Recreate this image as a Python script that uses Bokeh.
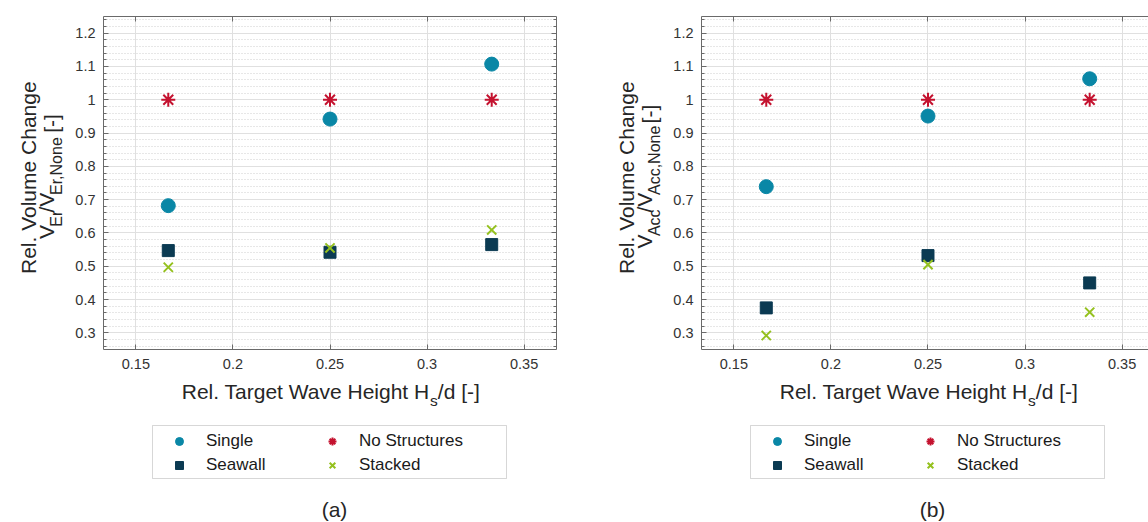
import math
import numpy as np
from bokeh.plotting import figure
from bokeh.models import (FixedTicker, LinearAxis, Range1d, Label, Legend, LegendItem,
                          BoxAnnotation, CustomJSTickFormatter)
from bokeh.layouts import row, column
from bokeh.embed import file_html
from bokeh.resources import INLINE

# ---------------- data ----------------
x_hs = [0.1667, 0.25, 0.3333]

single_er = [0.682, 0.942, 1.107]
seawall_er = [0.547, 0.542, 0.565]
nostruct_er = [1.0, 1.0, 1.0]
stacked_er = [0.497, 0.555, 0.609]

single_acc = [0.739, 0.951, 1.063]
seawall_acc = [0.375, 0.532, 0.450]
nostruct_acc = [1.0, 1.0, 1.0]
stacked_acc = [0.292, 0.505, 0.362]

series_names = ["Single", "Seawall", "No Structures", "Stacked"]

x_ticks = [0.15, 0.2, 0.25, 0.3, 0.35]
x_tick_labels = ["0.15", "0.2", "0.25", "0.3", "0.35"]
y_ticks = [0.3, 0.4, 0.5, 0.6, 0.7, 0.8, 0.9, 1.0, 1.1, 1.2]
y_tick_labels = ["0.3", "0.4", "0.5", "0.6", "0.7", "0.8", "0.9", "1", "1.1", "1.2"]

# ---------------- style / layout ----------------
FONT = "Liberation Sans"
C_SINGLE = "#0a87a6"
C_SEAWALL = "#0b3a52"
C_NOSTRUCT = "#c4122f"
C_STACKED = "#95c11f"
AXIS_C = "#6a6a6a"
TEXT_C = "#262626"

X_START, X_END = 0.13333, 0.36667
Y_START, Y_END = 0.25, 1.25
FRAME_W = 455          # full frame width (panel b is cut off at the right)
FRAME_H = 333
TOP = 16               # frame top inside the main figure
MAIN_BOTTOM = 28       # room for x tick labels
MAIN_H = TOP + FRAME_H + MAIN_BOTTOM
TOTAL_H = 522
BOT_H = TOTAL_H - MAIN_H
TICK_BORDER = 29       # room for y tick labels
MAIN = 21
SUB_X = 15.5
SUB_Y = 16

# page-y positions of the lower texts
XLAB_BASE = 398
BOX_TOP, BOX_BOTTOM = 425, 478
LEG_BOTTOM = 475
CAPTION_BASE = 516

y_minor = [round(v, 2) for v in np.arange(0.26, 1.2501, 0.02)]

AW = {'R': .722, 'e': .556, 'l': .222, '.': .278, ' ': .278, 'V': .667, 'o': .556,
      'u': .556, 'm': .833, 'C': .722, 'h': .556, 'a': .556, 'n': .556, 'g': .556,
      'T': .611, 'r': .333, 't': .278, 'W': .944, 'v': .5, 'H': .722, 'i': .222,
      's': .5, '/': .278, 'd': .556, '[': .278, '-': .333, ']': .278, 'E': .667,
      ',': .278, 'N': .722, 'A': .667, 'c': .5}


def tw(s, size):
    return sum(AW.get(c, .556) for c in s) * size


def blank_fig(w, h):
    """A figure whose frame fills the whole canvas; 1 data unit = 1 pixel."""
    f = figure(width=w, height=h, x_range=Range1d(0, w), y_range=Range1d(0, h),
               output_backend="svg", toolbar_location=None,
               x_axis_location=None, y_axis_location=None,
               min_border_left=0, min_border_right=0, min_border_top=0,
               min_border_bottom=0, outline_line_color=None,
               background_fill_color="white", border_fill_color="white")
    f.grid.visible = False
    return f


def style_axis(ax, ticks, labels, minor, show, standoff):
    ax.ticker = FixedTicker(ticks=ticks, minor_ticks=minor)
    ax.formatter = CustomJSTickFormatter(code="return tick.toString()")
    ax.major_label_overrides = dict(zip(ticks, labels))
    ax.axis_label = None
    ax.axis_line_color = AXIS_C
    ax.axis_line_width = 1
    ax.major_tick_in = 5
    ax.major_tick_out = 0
    ax.minor_tick_in = 3
    ax.minor_tick_out = 0
    ax.major_tick_line_color = AXIS_C
    ax.minor_tick_line_color = AXIS_C
    if show:
        ax.major_label_text_font = FONT
        ax.major_label_text_font_size = "14.5px"
        ax.major_label_text_color = "#333333"
        ax.major_label_standoff = standoff
    else:
        ax.major_label_text_font_size = "1px"
        ax.major_label_text_color = None
        ax.major_label_standoff = 0


def add_markers(p, single, seawall, nostruct, stacked):
    r1 = p.scatter(x_hs, single, marker="circle", size=14,
                   fill_color=C_SINGLE, line_color=C_SINGLE)
    r2 = p.scatter(x_hs, seawall, marker="square", size=12,
                   fill_color=C_SEAWALL, line_color=C_SEAWALL)
    r3 = p.scatter(x_hs, nostruct, marker="asterisk", size=14,
                   line_color=C_NOSTRUCT, line_width=2)
    r4 = p.scatter(x_hs, stacked, marker="x", size=13,
                   line_color=C_STACKED, line_width=2)
    return [r1, r2, r3, r4]


def text(fig, x, y, t, size, align="left", angle=0.0):
    """(x, y) is the point on the text baseline; the label is anchored at its middle."""
    k = 0.35 * size
    fig.add_layout(Label(x=x - k * math.sin(angle), y=y + k * math.cos(angle),
                         text=t, angle=angle, text_font=FONT,
                         text_font_size=f"{size}px", text_color=TEXT_C,
                         text_align=align, text_baseline="middle"))


def make_panel(single, seawall, nostruct, stacked, sub_name, caption,
               panel_w, ylab_w, x_end, right_axis):
    main_w = panel_w - ylab_w
    frame_w = round((x_end - X_START) / (X_END - X_START) * FRAME_W)
    # ---------- main plot ----------
    p = figure(width=main_w, height=MAIN_H,
               x_range=Range1d(X_START, x_end), y_range=Range1d(Y_START, Y_END),
               output_backend="svg", toolbar_location=None,
               min_border_left=TICK_BORDER,
               min_border_right=max(main_w - TICK_BORDER - frame_w, 0),
               min_border_top=TOP, min_border_bottom=MAIN_BOTTOM,
               outline_line_color=None, background_fill_color="white",
               border_fill_color="white")
    style_axis(p.xaxis[0], x_ticks, x_tick_labels, [], True, 9)
    style_axis(p.yaxis[0], y_ticks, y_tick_labels, y_minor, True, 8)
    top_ax = LinearAxis()
    style_axis(top_ax, x_ticks, x_tick_labels, [], False, 0)
    p.add_layout(top_ax, "above")
    if right_axis:
        r_ax = LinearAxis()
        style_axis(r_ax, y_ticks, y_tick_labels, y_minor, False, 0)
        p.add_layout(r_ax, "right")
    p.xgrid.ticker = FixedTicker(ticks=x_ticks)
    p.ygrid.ticker = FixedTicker(ticks=y_ticks, minor_ticks=y_minor)
    p.xgrid.grid_line_color = "#e0e0e0"
    p.ygrid.grid_line_color = "#e0e0e0"
    p.ygrid.minor_grid_line_color = "#cfcfcf"
    p.ygrid.minor_grid_line_dash = "1 2"
    add_markers(p, single, seawall, nostruct, stacked)

    frame_left = ylab_w + TICK_BORDER     # frame left, in panel pixels

    # ---------- y label strip ----------
    yl = blank_fig(ylab_w, MAIN_H)
    yc = MAIN_H - TOP - FRAME_H / 2       # frame centre (y up)
    up = math.pi / 2
    text(yl, frame_left - 66, yc, "Rel. Volume Change", MAIN, "center", up)
    b2 = frame_left - 48                  # baseline of line 2
    segs = [("V", MAIN, 0), (sub_name, SUB_Y, 9), ("/V", MAIN, 0),
            (sub_name + ",None", SUB_Y, 9), ("  ", MAIN, None), ("[-]", MAIN, 5)]
    L = sum(tw(t, f) for t, f, _ in segs)
    pos = yc - L / 2
    for t, f, d in segs:
        if d is not None:
            text(yl, b2 + d, pos, t, f, "left", up)
        pos += tw(t, f)

    # ---------- bottom strip: x label, legend, caption ----------
    bt = blank_fig(panel_w, BOT_H)
    py = lambda page_y: TOTAL_H - page_y        # page y -> strip y (up)
    p1, s1, p3 = "Rel. Target Wave Height H", "s", "/d [-]"
    L = tw(p1, MAIN) + tw(s1, SUB_X) + tw(p3, MAIN)
    j = frame_left + FRAME_W / 2 - L / 2 + tw(p1, MAIN)
    yb = py(XLAB_BASE)
    text(bt, j, yb, p1, MAIN, "right")
    text(bt, j + 0.5, yb - 7, s1, SUB_X, "left")
    text(bt, j + 0.5 + tw(s1, SUB_X), yb, p3, MAIN, "left")

    bt.add_layout(BoxAnnotation(left=frame_left + 51, right=frame_left + 405,
                                top=py(BOX_TOP), bottom=py(BOX_BOTTOM),
                                fill_color="white", fill_alpha=1.0,
                                line_color="#7a7a7a", line_width=1))
    proxies = add_markers(bt, single, seawall, nostruct, stacked)
    for r in proxies:
        r.visible = False
    leg = Legend(items=[LegendItem(label=n, renderers=[r])
                        for n, r in zip(series_names, proxies)],
                 location=(frame_left + 68, py(LEG_BOTTOM)), orientation="vertical",
                 nrows=2, glyph_width=20, glyph_height=20, label_standoff=17,
                 label_width=112, spacing=4, padding=0,
                 border_line_color=None, background_fill_alpha=0,
                 inactive_fill_alpha=0,
                 label_text_font=FONT, label_text_font_size="17px",
                 label_text_color="#1a1a1a")
    bt.add_layout(leg)

    text(bt, frame_left + 233, py(CAPTION_BASE), caption, MAIN, "center")

    return column(row(yl, p), bt)


PA_W = 590
PB_W = 1148 - PA_W
YLAB_A = 101 - TICK_BORDER            # frame a starts at x = 101
YLAB_B = 699 - PA_W - TICK_BORDER     # frame b starts at x = 699
x_end_b = X_START + (PB_W - YLAB_B - TICK_BORDER) * (X_END - X_START) / FRAME_W

pa = make_panel(single_er, seawall_er, nostruct_er, stacked_er, "Er", "(a)",
                PA_W, YLAB_A, X_END, True)
pb = make_panel(single_acc, seawall_acc, nostruct_acc, stacked_acc, "Acc", "(b)",
                PB_W, YLAB_B, x_end_b, False)

layout = row(pa, pb)
open("out.html", "w").write(file_html(layout, INLINE))
